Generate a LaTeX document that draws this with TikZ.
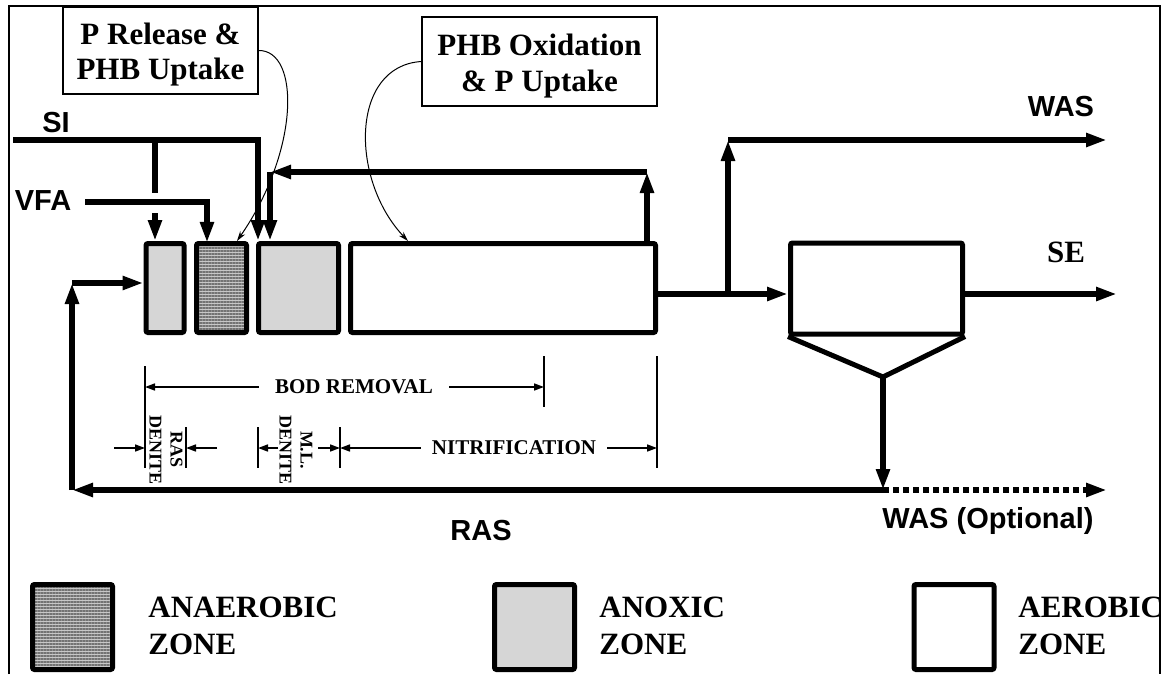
\documentclass[tikz,border=0pt]{standalone}
\usepackage{fontspec}
\setmainfont{Liberation Serif}
\newfontfamily\arialfont{Liberation Sans}
\usetikzlibrary{arrows.meta, patterns.meta}
\tikzset{
  tank/.style     = {rectangle, draw, line width=2.5pt, rounded corners=1pt, inner sep=0, minimum height=44.5pt},
  anox/.style     = {tank, fill=black!16},
  anaer/.style    = {tank, preaction={fill=black!22}, pattern={Lines[angle=0,distance=1.5pt,line width=0.6pt]}, pattern color=black!55},
  aer/.style      = {tank, fill=white},
  note/.style     = {rectangle, draw, line width=0.6pt, inner sep=0, align=center, text height=29.5pt, text depth=0pt, font=\bfseries\fontsize{15.5}{17.75}\selectfont},
  flow/.style     = {line width=3pt},
  flowarr/.style  = {flow, -{Triangle[length=10.5pt,width=6.5pt]}},
  leader/.style   = {line width=0.5pt, -{Stealth[length=5pt,width=3pt]}},
  dim/.style      = {line width=0.8pt},
  dimarr/.style   = {dim, -{Triangle[length=5pt,width=3.5pt]}},
  sanslbl/.style  = {inner sep=0, font=\arialfont\bfseries\fontsize{14.5}{17}\selectfont},
  seriflbl/.style = {inner sep=0, font=\bfseries\fontsize{15.5}{17.75}\selectfont},
  dimlbl/.style   = {inner ysep=0, font=\bfseries\fontsize{10.5}{12}\selectfont},
  vlbl/.style     = {rotate=-90, align=center, inner sep=0, font=\bfseries\fontsize{9}{10.5}\selectfont},
  legtxt/.style   = {anchor=west, align=left, inner sep=0, font=\bfseries\fontsize{15.5}{18.5}\selectfont}
}

\begin{document}
\begin{tikzpicture}[x=0.5pt, y=-0.5pt]
  \useasboundingbox (0,0) rectangle (1166,674);

  % ---------- frame ----------
  \draw[line width=1pt] (9,674) -- (9,6) -- (1160,6) -- (1160,674);

  % ---------- reactor zones ----------
  \node[anox,  minimum width=19pt]    (A)  at (165,288)   {};
  \node[anaer, minimum width=25pt]    (B)  at (221.5,288) {};
  \node[anox,  minimum width=40pt]    (C)  at (298.5,288) {};
  \node[aer,   minimum width=152.5pt] (D)  at (503,288)   {};

  % ---------- clarifier ----------
  \node[aer, minimum width=86pt, minimum height=45.5pt] (ML) at (876.5,288.5) {};
  \coordinate (apex) at (883,377);
  \draw[line width=2.5pt, line join=round] (ML.south west) -- (apex) -- (ML.south east);

  % ---------- process notes ----------
  \node[note, minimum width=97.5pt,  minimum height=43.5pt] (rel) at (160.5,50.5) {P Release \&\\PHB Uptake};
  \node[note, minimum width=117.5pt, minimum height=44.5pt] (ox)  at (539.5,61.5) {PHB Oxidation\\\& P Uptake};
  \coordinate (relTip) at (237,241);
  \coordinate (oxTip)  at (408,241);
  \draw[leader] (rel.east) .. controls (300,50) and (300,150) .. (relTip);
  \draw[leader] (ox.west) .. controls (350,66) and (350,180) .. (oxTip);

  % ---------- influent SI / VFA ----------
  \coordinate (si0)    at (13,140);
  \coordinate (si1)    at (258,140);
  \coordinate (sib)    at (155,140);
  \coordinate (sigap1) at (155,193);
  \coordinate (sigap2) at (155,213);
  \coordinate (vfa0)   at (85,202);
  \coordinate (vfa1)   at (207,202);
  \draw[flowarr] (si0) -- (si1) -- (si1 |- C.north);
  \draw[flow]    (sib) -- (sigap1);
  \draw[flowarr] (sigap2) -- (sigap2 |- A.north);
  \draw[flowarr] (vfa0) -- (vfa1) -- (vfa1 |- B.north);

  % ---------- internal recycle ----------
  \coordinate (mlr) at (647,172);
  \coordinate (mll) at (270,172);
  \draw[flowarr] (mlr |- D.north) -- (mlr);
  \draw[flowarr] (mlr) -- (mll);
  \draw[flowarr] (mll) -- (mll |- C.north);

  % ---------- effluent / WAS ----------
  \coordinate (split) at (728,294);
  \coordinate (was0)  at (728,140);
  \coordinate (was1)  at (1107,140);
  \coordinate (se1)   at (1117,294);
  \draw[flow]    (D.east |- split) -- (split);
  \draw[flowarr] (split) -- (split -| ML.west);
  \draw[flowarr] (split) -- (was0);
  \draw[flowarr] (was0) -- (was1);
  \draw[flowarr] (ML.east |- split) -- (se1);

  % ---------- RAS ----------
  \coordinate (ras0) at (883,490);
  \coordinate (ras1) at (72,490);
  \coordinate (ras2) at (72,283);
  \coordinate (was2) at (1107,490);
  \draw[flowarr] (apex) -- (ras0);
  \draw[flowarr] (ras0) -- (ras1);
  \draw[flowarr] (ras1) -- (ras2);
  \draw[flowarr] (ras2) -- (ras2 -| A.west);
  \draw[flowarr, dash pattern=on 3pt off 2pt] (ras0) -- (was2);

  % ---------- stream labels ----------
  \node[sanslbl]  (siL)   at (56,123)   {SI};
  \node[sanslbl]  (vfaL)  at (43,201)   {VFA};
  \node[sanslbl]  (wasL)  at (1061,107) {WAS};
  \node[seriflbl] (seL)   at (1066,252) {SE};
  \node[sanslbl]  (rasL)  at (481,531)  {RAS};
  \node[sanslbl]  (wasoL) at (988,521)  {WAS (Optional)};

  % ---------- dimension lines ----------
  \draw[dim] (145,366) -- (145,468);
  \draw[dim] (544,356) -- (544,407);
  \draw[dim] (657,356) -- (657,468);
  \draw[dim] (186,427) -- (186,468);
  \draw[dim] (258,427) -- (258,468);
  \draw[dim] (340,427) -- (340,468);

  \node[dimlbl, inner xsep=8pt] (bod) at (354,387) {BOD REMOVAL};
  \coordinate (bodL) at (145,387);
  \coordinate (bodR) at (544,387);
  \draw[dimarr] (bod.west) -- (bodL);
  \draw[dimarr] (bod.east) -- (bodR);

  \node[dimlbl, inner xsep=5.5pt] (nit) at (514,448) {NITRIFICATION};
  \coordinate (nitL) at (340,448);
  \coordinate (nitR) at (657,448);
  \draw[dimarr] (nit.west) -- (nitL);
  \draw[dimarr] (nit.east) -- (nitR);

  \node[vlbl] (mld) at (296,450) {M.L.\\DENITE};
  \coordinate (mldA) at (278,448);
  \coordinate (mldL) at (258,448);
  \coordinate (mldB) at (318,448);
  \draw[dimarr] (mldA) -- (mldL);
  \draw[dimarr] (mldB) -- (nitL);

  \node[vlbl] (rasd) at (166,450) {RAS\\DENITE};
  \coordinate (rdA) at (114,448);
  \coordinate (rdL) at (145,448);
  \coordinate (rdB) at (217,448);
  \coordinate (rdR) at (186,448);
  \draw[dimarr] (rdA) -- (rdL);
  \draw[dimarr] (rdB) -- (rdR);

  % ---------- legend ----------
  \node[anaer, minimum width=40pt, minimum height=42.5pt] (legAn) at (72.5,627) {};
  \node[legtxt] (legAnT) at (148,626) {ANAEROBIC\\ZONE};
  \node[anox, minimum width=40pt, minimum height=42.5pt] (legAx) at (534.5,627) {};
  \node[legtxt] (legAxT) at (599,626) {ANOXIC\\ZONE};
  \node[aer, minimum width=40pt, minimum height=42.5pt] (legAe) at (954,627) {};
  \node[legtxt] (legAeT) at (1018,626) {AEROBIC\\ZONE};

\end{tikzpicture}
\end{document}
